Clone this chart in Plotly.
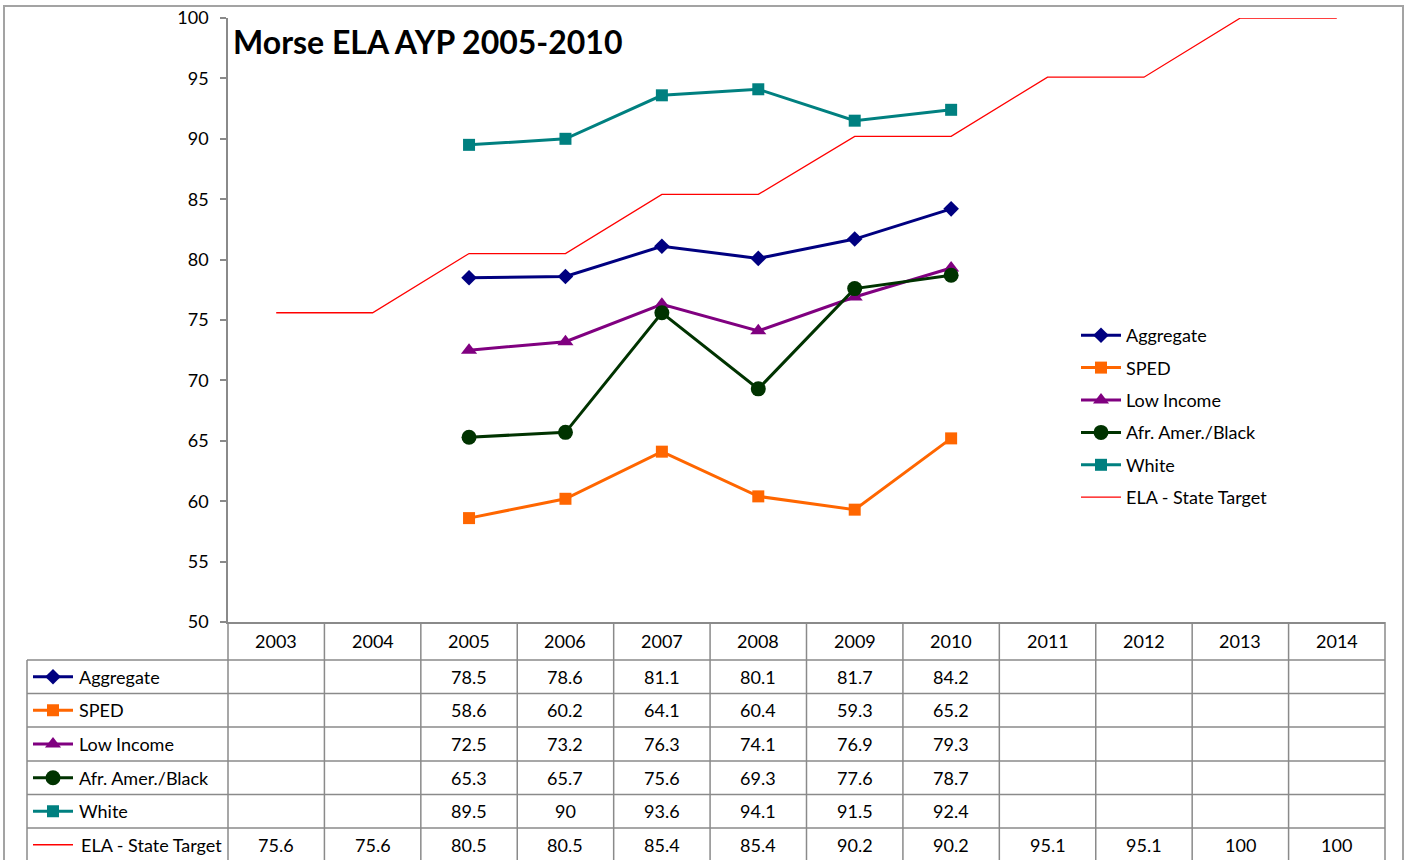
import plotly.graph_objects as go

# ---------------- data ----------------
years = ['2003', '2004', '2005', '2006', '2007', '2008', '2009', '2010', '2011', '2012', '2013', '2014']
aggregate = [None, None, 78.5, 78.6, 81.1, 80.1, 81.7, 84.2, None, None, None, None]
sped = [None, None, 58.6, 60.2, 64.1, 60.4, 59.3, 65.2, None, None, None, None]
low_income = [None, None, 72.5, 73.2, 76.3, 74.1, 76.9, 79.3, None, None, None, None]
afr_amer = [None, None, 65.3, 65.7, 75.6, 69.3, 77.6, 78.7, None, None, None, None]
white = [None, None, 89.5, 90, 93.6, 94.1, 91.5, 92.4, None, None, None, None]
state_target = [75.6, 75.6, 80.5, 80.5, 85.4, 85.4, 90.2, 90.2, 95.1, 95.1, 100, 100]

series_names = ['Aggregate', 'SPED', 'Low Income', 'Afr. Amer./Black', 'White', 'ELA - State Target']
series_values = [aggregate, sped, low_income, afr_amer, white, state_target]
title_text = 'Morse ELA AYP 2005-2010'

# ---------------- styles ----------------
W, H = 1405, 860
PL, PR, PT, PB = 228, 1385, 18, 622
TABLE_L = 27
row_edges = [622, 660, 693.5, 727, 761, 794.5, 828, 861.5]
FONT = 'Lato, Calibri, sans-serif'
FS = 18
GRID = '#8a8a8a'

styles = [
    dict(color='#000080', symbol='diamond', size=12, width=3),
    dict(color='#FF6600', symbol='square', size=12, width=3),
    dict(color='#800080', symbol='triangle-up', size=14, width=3),
    dict(color='#003300', symbol='circle', size=15, width=3),
    dict(color='#008080', symbol='square', size=12, width=3),
    dict(color='#FF0000', symbol=None, size=0, width=1.3),
]

fig = go.Figure()

for i, (name, vals, st) in enumerate(zip(series_names, series_values, styles)):
    if st['symbol']:
        fig.add_trace(go.Scatter(
            x=years, y=vals, name=name, mode='lines+markers',
            line=dict(color=st['color'], width=st['width']),
            marker=dict(symbol=st['symbol'], size=st['size'], color=st['color']),
            legendgroup=f'g{i}', connectgaps=False, cliponaxis=False))
    else:
        fig.add_trace(go.Scatter(
            x=years, y=vals, name=name, mode='lines',
            line=dict(color=st['color'], width=st['width']),
            legendgroup=f'g{i}', cliponaxis=False))

cw = (PR - PL) / len(years)

shapes = []
annotations = []
# table legend keys (overlay pixel axes)
for i, (name, st) in enumerate(zip(series_names, styles)):
    yc = (row_edges[i + 1] + row_edges[i + 2]) / 2
    x0k, x1k = 33, 73
    shapes.append(dict(type='line', xref='x2', yref='y2', x0=x0k, x1=x1k, y0=yc, y1=yc,
                       line=dict(color=st['color'], width=st['width'])))
    if st['symbol']:
        fig.add_trace(go.Scatter(
            x=[(x0k + x1k) / 2], y=[yc], xaxis='x2', yaxis='y2', mode='markers',
            marker=dict(symbol=st['symbol'], size=st['size'], color=st['color']),
            showlegend=False, hoverinfo='skip'))
    annotations.append(dict(xref='x2', yref='y2', x=77 if st['symbol'] else 79, y=yc,
                            text=name, showarrow=False, xanchor='left', yanchor='middle',
                            font=dict(family=FONT, size=FS, color='black')))

# header years & values
header_c = (row_edges[0] + row_edges[1]) / 2
for j, yr in enumerate(years):
    xc = PL + (j + 0.5) * cw
    annotations.append(dict(xref='x2', yref='y2', x=xc, y=header_c, text=yr, showarrow=False,
                            xanchor='center', yanchor='middle',
                            font=dict(family=FONT, size=FS, color='black')))
    for i, vals in enumerate(series_values):
        v = vals[j]
        if v is None:
            continue
        yc = (row_edges[i + 1] + row_edges[i + 2]) / 2
        annotations.append(dict(xref='x2', yref='y2', x=xc, y=yc, text=f'{v:g}', showarrow=False,
                                xanchor='center', yanchor='middle',
                                font=dict(family=FONT, size=FS, color='black')))

# table grid
for k in range(len(years) + 1):
    xk = PL + k * cw
    shapes.append(dict(type='line', xref='x2', yref='y2', x0=xk, x1=xk,
                       y0=row_edges[0], y1=row_edges[-1], line=dict(color=GRID, width=1.5)))
shapes.append(dict(type='line', xref='x2', yref='y2', x0=TABLE_L, x1=TABLE_L,
                   y0=row_edges[1], y1=row_edges[-1], line=dict(color=GRID, width=1.5)))
for r in row_edges[1:-1]:
    shapes.append(dict(type='line', xref='x2', yref='y2', x0=TABLE_L, x1=PR, y0=r, y1=r,
                       line=dict(color=GRID, width=1.5)))
# outer border
shapes.append(dict(type='rect', xref='x2', yref='y2', x0=4, x1=1403, y0=6, y1=875,
                   line=dict(color='#a3a3a3', width=2)))

annotations.append(dict(xref='x2', yref='y2', x=231, y=41, text=f'<b>{title_text}</b>',
                        showarrow=False, xanchor='left', yanchor='middle',
                        font=dict(family=FONT, size=32, color='black')))

fig.update_layout(
    width=W, height=H,
    margin=dict(l=0, r=0, t=0, b=0, autoexpand=False),
    paper_bgcolor='white', plot_bgcolor='rgba(0,0,0,0)',
    font=dict(family=FONT, size=FS, color='black'),
    xaxis=dict(domain=[PL / W, PR / W], type='category', range=[-0.5, 11.5],
               showticklabels=False, ticks='', showgrid=False, zeroline=False, automargin=False,
               showline=True, linecolor=GRID, linewidth=1.5, fixedrange=True),
    yaxis=dict(domain=[1 - PB / H, 1 - PT / H], range=[50, 100], dtick=5, automargin=False,
               ticks='outside', ticklen=6, tickcolor=GRID, tickwidth=1.5,
               showline=True, linecolor=GRID, linewidth=1.5, showgrid=False, zeroline=False,
               ticklabelstandoff=8, tickfont=dict(family=FONT, size=FS, color='black')),
    xaxis2=dict(domain=[0, 1], range=[0, W], visible=False, anchor='y2', automargin=False),
    yaxis2=dict(domain=[0, 1], range=[H, 0], visible=False, anchor='x2', automargin=False),
    legend=dict(x=1076 / W, y=1 - 317 / H, xanchor='left', yanchor='top',
                font=dict(family=FONT, size=FS, color='black'),
                bgcolor='rgba(0,0,0,0)', tracegroupgap=6, itemwidth=40),
    shapes=shapes, annotations=annotations, showlegend=True,
)

fig.write_html('out.html', config={'displayModeBar': False},
               post_script="document.body.style.margin='0px';document.body.style.overflow='hidden';")
